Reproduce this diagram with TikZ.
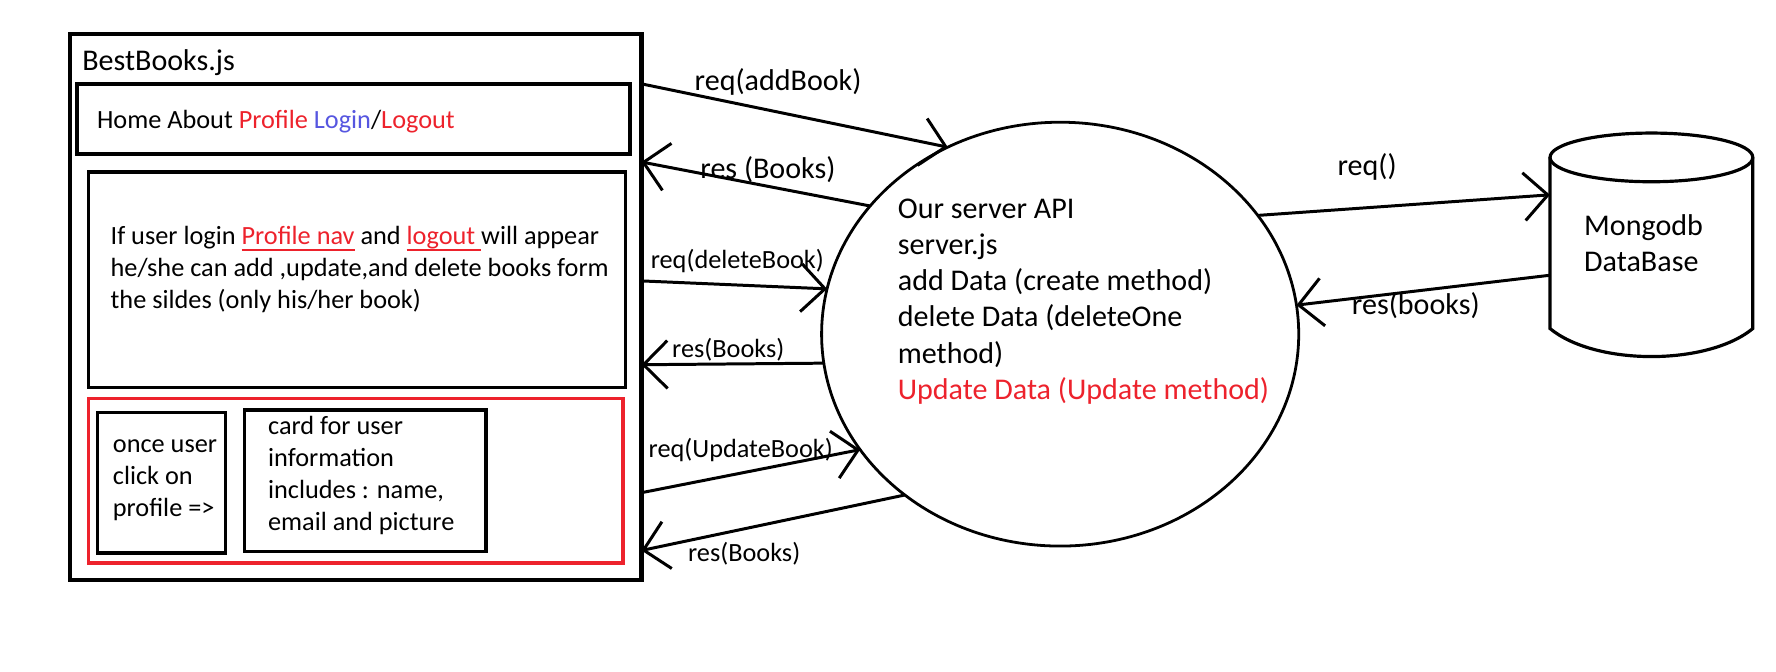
\documentclass[tikz,border=0pt]{standalone}
\usepackage{fontspec}
\setmainfont{Carlito}
\usetikzlibrary{positioning,shapes.geometric,arrows.meta}
\definecolor{penred}{RGB}{237,34,44}
\definecolor{penblue}{RGB}{86,86,224}
\newcommand\navline[1]{\underline{\smash{#1}}}

\begin{document}
\begin{tikzpicture}[
    x=0.01cm,y=-0.01cm,
    boxfont/.style={font=\fontsize{6.6}{8.05}\selectfont},
    bigfont/.style={font=\fontsize{7.55}{9.1}\selectfont},
    panel/.style={rectangle,draw,line width=0.9pt,inner sep=0pt,outer sep=0pt,anchor=north west},
    txt/.style={boxfont,inner sep=0pt,align=left,anchor=west},
    call/.style={line width=0.75pt,-{Straight Barb[length=6pt,width=12pt]}},
    lbl/.style={boxfont,inner sep=0pt}
  ]

  \useasboundingbox (0,0) rectangle (1568,593);

  % the page
  \node(best) [panel,line width=1.1pt,minimum width=5.04cm,minimum height=4.82cm] at (62,30) {};
  \node(title) [txt,bigfont] at (72,55) {BestBooks.js};

  \node(nav) [panel,minimum width=4.88cm,minimum height=0.62cm] at (68,74) {};
  \node(navtxt) [txt] at (85,107) {Home About \textcolor{penred}{Profile} \textcolor{penblue}{Login}/\textcolor{penred}{Logout}};

  \node(main) [panel,minimum width=4.74cm,minimum height=1.90cm] at (78,152) {};
  \node(maintxt) [txt] at (97,238) {If user login \textcolor{penred}{\navline{Profile nav}} and \textcolor{penred}{\navline{logout\ }}will appear\\
    he/she can add ,update,and delete books form\\
    the sildes (only his/her book)};

  \node(prof) [panel,draw=penred,minimum width=4.72cm,minimum height=1.45cm] at (78,352) {};
  \node(click) [panel,minimum width=1.13cm,minimum height=1.24cm] at (86,364) {};
  \node(clicktxt) [txt] at (99,424) {once user\\click on\\profile =>};
  \node(card) [panel,minimum width=2.13cm,minimum height=1.25cm] at (216,362) {};
  \node(cardtxt) [txt] at (236,420) {card for user\\information\\includes : name,\\email and picture};

  % server and database
  \node(srv) [ellipse,draw,line width=0.7pt,inner sep=0pt,outer sep=0pt,minimum width=4.21cm,minimum height=3.74cm] at (936,295) {};
  \node(srvtxt) [txt,bigfont] at (792,266) {Our server API\\server.js\\add Data (create method)\\delete Data (deleteOne\\method)\\\textcolor{penred}{Update Data (Update method)}};

  \node(db) [rectangle,inner sep=0pt,outer sep=0pt,minimum width=1.79cm,minimum height=1.51cm] at (1458,214.5) {};
  \draw[line width=0.8pt] (db.north) ellipse [x radius=89.5,y radius=21.5];
  \draw[line width=0.8pt] (db.north west) -- (db.south west)
    .. controls +(40,33) and +(-40,33) .. (db.south east) -- (db.north east);
  \node(dbtxt) [txt,bigfont] at (1398,215) {Mongodb\\DataBase};

  \coordinate(e1) at (best.east |- nav.north);
  \coordinate(e2) at (best.east |- 0,143);
  \coordinate(e3) at (best.east |- 0,248);
  \coordinate(e4) at (best.east |- 0,322);
  \coordinate(e5) at (best.east |- 0,435);
  \coordinate(e6) at (best.east |- 0,486);

  \draw[call] (e1) -- (srv.121);
  \draw[call] (srv.146.5) -- (e2);
  \draw[call] (e3) -- (srv.169.5);
  \draw[call] (srv.187) -- (e4);
  \draw[call] (e5) -- (srv.210.7);
  \draw[call] (srv.226) -- (e6);
  \draw[call] (srv.31) -- (db.west |- 0,172);
  \draw[call] (db.west |- 0,243) -- (srv.7.5);

  \node(l1) [lbl,bigfont] at (687,72) {req(addBook)};
  \node(l2) [lbl,bigfont] at (678,150) {res (Books)};
  \node(l3) [lbl] at (651,230) {req(deleteBook)};
  \node(l4) [lbl] at (643,309) {res(Books)};
  \node(l5) [lbl] at (654,397) {req(UpdateBook)};
  \node(l6) [lbl] at (657,489) {res(Books)};
  \node(l7) [lbl,bigfont] at (1207,147) {req()};
  \node(l8) [lbl,bigfont] at (1250,270) {res(books)};

\end{tikzpicture}
\end{document}
